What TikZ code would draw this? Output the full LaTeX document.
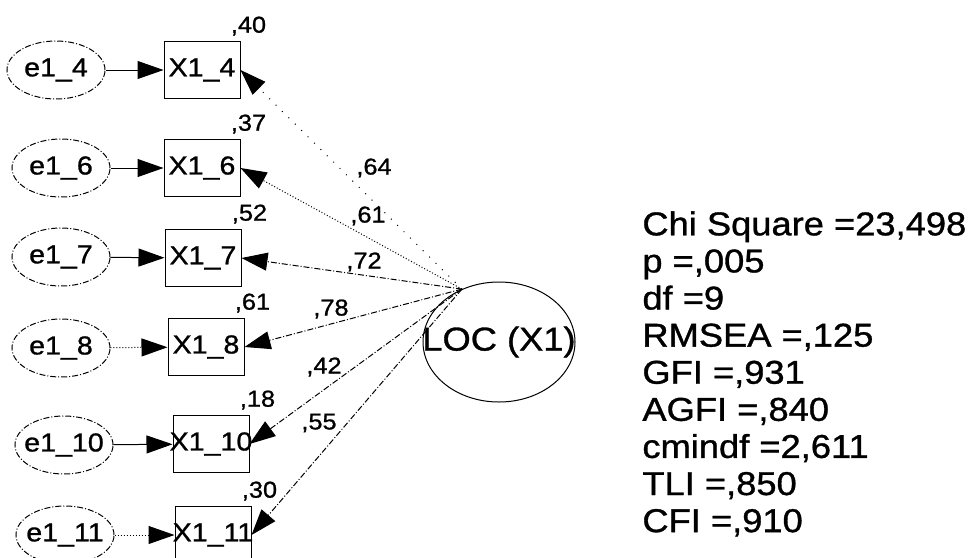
\documentclass[tikz,border=0pt]{standalone}
\usepackage{fontspec}
\setmainfont{Liberation Sans}[FakeStretch=1.1, FakeBold=1]
\usepackage{tikz}
\usetikzlibrary{arrows.meta, positioning, shapes.geometric}

\newcommand{\zw}[1]{\makebox[0pt]{#1}}

\begin{document}
\begin{tikzpicture}[
    x=0.5pt, y=-0.5pt,
    every node/.style={inner sep=0pt},
    err/.style={ellipse, draw, line width=0.5pt, densely dashdotted,
                minimum width=49pt, minimum height=29pt,
                font=\fontsize{13}{15}\selectfont},
    obs/.style={rectangle, draw, line width=0.5pt,
                minimum width=38pt, minimum height=28.5pt,
                font=\fontsize{13}{15}\selectfont},
    lat/.style={ellipse, draw, line width=0.5pt,
                minimum width=76pt, minimum height=60pt,
                font=\fontsize{16.5}{18}\selectfont},
    coef/.style={font=\fontsize{11.5}{13}\selectfont},
    arr/.style={line width=0.5pt, -{Triangle[length=13pt, width=9pt]}},
]
\clip (0,0) rectangle (974,557);

\node[err] (e4)  at (56,70)   {\zw{e1\_4}};
\node[err] (e6)  at (61,168)  {\zw{e1\_6}};
\node[err] (e7)  at (61,257)  {\zw{e1\_7}};
\node[err] (e8)  at (61,348)  {\zw{e1\_8}};
\node[err] (e10) at (64,445)  {\zw{e1\_10}};
\node[err] (e11) at (65,535)  {\zw{e1\_11}};

\node[obs] (x4)  at (202,70)  {\zw{X1\_4}};
\node[obs] (x6)  at (202,168) {\zw{X1\_6}};
\node[obs] (x7)  at (203,258) {\zw{X1\_7}};
\node[obs] (x8)  at (206,347) {\zw{X1\_8}};
\node[obs] (x10) at (211,444) {\zw{X1\_10}};
\node[obs] (x11) at (213,535) {\zw{X1\_11}};

\node[lat] (loc) at (499,342) {\zw{LOC (X1)}};

\foreach \i in {4,6,7,10} {
    \draw[arr] (e\i) -- (x\i);
}
\foreach \i in {8,11} {
    \draw[arr, densely dotted] (e\i) -- (x\i);
}

\draw[arr, loosely dotted] (loc.125) -- (x4.east);
\draw[arr, densely dotted] (loc.125) -- (x6.east);
\foreach \i in {7,8,10,11} {
    \draw[arr, densely dashdotted] (loc.125) -- (x\i.east);
}

\foreach \i/\v in {4/{,40}, 6/{,37}, 7/{,52}, 8/{,61}, 10/{,18}, 11/{,30}} {
    \node[coef, anchor=south west] (v\i)
        at ([xshift=-5pt, yshift=2.5pt]x\i.north east) {\v};
}

\node[coef] (l4)  at (374,168) {,64};
\node[coef] (l6)  at (368,216) {,61};
\node[coef] (l7)  at (364,262) {,72};
\node[coef] (l8)  at (331,309) {,78};
\node[coef] (l10) at (324,367) {,42};
\node[coef] (l11) at (319,423) {,55};

\node[anchor=north west, align=left, font=\fontsize{16.5}{18.55}\selectfont]
    (fit) at (642,211)
    {Chi Square =23,498\\p =,005\\df =9\\RMSEA =,125\\GFI =,931\\
     AGFI =,840\\cmindf =2,611\\TLI =,850\\CFI =,910};

\end{tikzpicture}
\end{document}
